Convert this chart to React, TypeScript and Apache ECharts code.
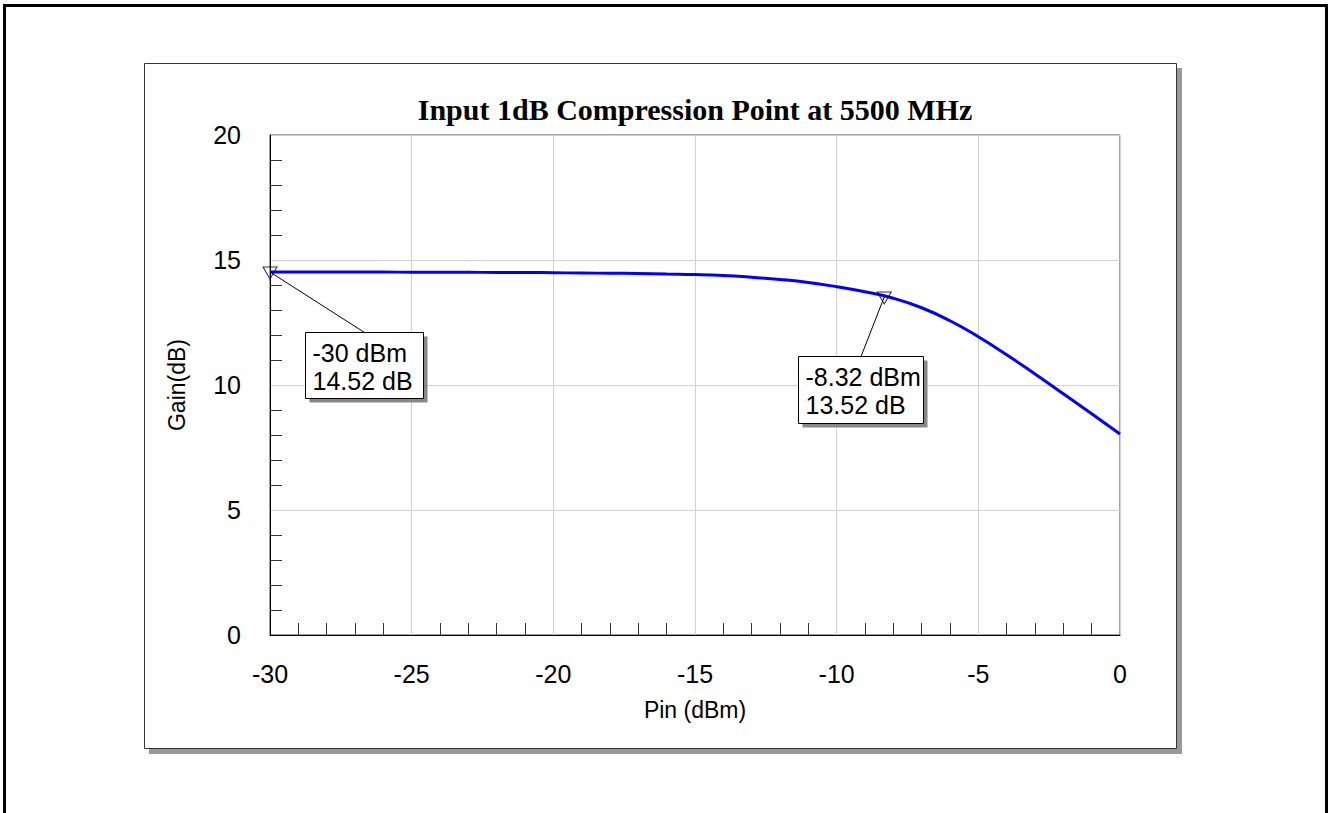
import React, { useEffect, useRef } from "react";
import * as echarts from "echarts";

// ---- data ----
const pinDbm = [-30, -29, -28, -27, -26, -25, -24, -23, -22, -21, -20, -19, -18, -17, -16, -15, -14, -13, -12, -11, -10, -9, -8, -7, -6, -5, -4, -3, -2, -1, 0];
const gainDb = [14.52, 14.52, 14.52, 14.52, 14.52, 14.51, 14.51, 14.51, 14.5, 14.5, 14.49, 14.48, 14.47, 14.46, 14.44, 14.42, 14.38, 14.31, 14.22, 14.1, 13.93, 13.73, 13.47, 13.09, 12.57, 11.93, 11.21, 10.44, 9.65, 8.85, 8.04];
const markerPin = [-30, -8.32];
const markerGain = [14.52, 13.52];
const markerText = ["-30 dBm\n14.52 dB", "-8.32 dBm\n13.52 dB"];
const titleText = "Input 1dB Compression Point at 5500 MHz";
const xName = "Pin (dBm)";
const yName = "Gain(dB)";

// callout layout (px offsets from marker)
const calloutLayout = [
  { dx: 35, dy: 60, w: 118, h: 66 },
  { dx: -86, dy: 59, w: 125, h: 67 },
];

const SANS = '"Liberation Sans", Arial, sans-serif';
const SERIF = '"Liberation Serif", "Times New Roman", serif';

export default function App() {
  const ref = useRef<HTMLDivElement>(null);
  useEffect(() => {
    const chart = echarts.init(ref.current!, null, { renderer: "svg" });
    chart.setOption({
      animation: false,
      grid: { left: 270, top: 135, right: 210, bottom: 178, show: true, borderColor: "#444", borderWidth: 1, backgroundColor: "transparent" },
      xAxis: {
        type: "value",
        min: -30,
        max: 0,
        interval: 5,
        name: xName,
        nameLocation: "middle",
        nameGap: 63,
        nameTextStyle: { fontFamily: SANS, fontSize: 23, color: "#000" },
        axisLine: { show: true, onZero: false, lineStyle: { color: "#000", width: 1 } },
        axisTick: { show: false, inside: true },
        minorTick: { show: true, splitNumber: 5, length: 12, lineStyle: { color: "#333", width: 1 } },
        splitLine: { show: true, lineStyle: { color: "#d0d0d0", width: 1 } },
        axisLabel: { fontFamily: SANS, fontSize: 25, color: "#000", margin: 26, showMinLabel: true, showMaxLabel: true },
      },
      yAxis: {
        type: "value",
        min: 0,
        max: 20,
        interval: 5,
        name: yName,
        nameLocation: "middle",
        nameGap: 82,
        nameRotate: 90,
        nameTextStyle: { fontFamily: SANS, fontSize: 23, color: "#000" },
        axisLine: { show: true, onZero: false, lineStyle: { color: "#000", width: 1 } },
        axisTick: { show: false, inside: true },
        minorTick: { show: true, splitNumber: 5, length: 12, lineStyle: { color: "#333", width: 1 } },
        splitLine: { show: true, lineStyle: { color: "#d0d0d0", width: 1 } },
        axisLabel: { fontFamily: SANS, fontSize: 25, color: "#000", margin: 29 },
      },
      series: [
        {
          type: "line",
          data: pinDbm.map((p, i) => [p, gainDb[i]]),
          smooth: true,
          showSymbol: false,
          lineStyle: { color: "#0000ff", width: 3 },
          z: 3,
        },
        {
          type: "scatter",
          data: markerPin.map((p, i) => [p, markerGain[i]]),
          symbol: "triangle",
          symbolRotate: 180,
          symbolSize: [14, 12],
          symbolOffset: [0, 1],
          itemStyle: { color: "rgba(0,0,0,0)", borderColor: "#000", borderWidth: 1 },
          z: 5,
        },
      ],
    });

    const callouts: any[] = [];
    markerPin.forEach((p, i) => {
      const [px, py] = chart.convertToPixel({ seriesIndex: 1 }, [p, markerGain[i]]) as number[];
      const L = calloutLayout[i];
      const bx = Math.round(px + L.dx) + 0.5;
      const by = Math.round(py + L.dy) + 0.5;
      callouts.push(
        { type: "line", z: 100, shape: { x1: px, y1: py, x2: bx + L.w / 2, y2: by }, style: { stroke: "#000", lineWidth: 1 } },
        { type: "rect", z: 100, shape: { x: bx + 4, y: by + 4, width: L.w, height: L.h }, style: { fill: "#888", stroke: "none" } },
        { type: "rect", z: 101, shape: { x: bx, y: by, width: L.w, height: L.h }, style: { fill: "#fff", stroke: "#000", lineWidth: 1 } },
        {
          type: "text",
          z: 102,
          x: bx + 7,
          y: by + 6,
          style: { text: markerText[i], font: `25px ${SANS}`, fill: "#000", lineHeight: 28, align: "left", verticalAlign: "top" },
        }
      );
    });

    chart.setOption({
      graphic: [
        { type: "rect", z: -100, shape: { x: 4.5, y: 5.5, width: 1322, height: 900 }, style: { fill: "none", stroke: "#000", lineWidth: 3 } },
        { type: "rect", z: -99, shape: { x: 149, y: 68, width: 1033, height: 686 }, style: { fill: "#999", stroke: "none" } },
        { type: "rect", z: -98, shape: { x: 144.5, y: 63.5, width: 1032, height: 685 }, style: { fill: "#fff", stroke: "#333", lineWidth: 1 } },
        {
          type: "text",
          z: 50,
          x: 695,
          y: 109,
          style: { text: titleText, font: `bold 30px ${SERIF}`, fill: "#000", align: "center", verticalAlign: "middle" },
        },
        ...callouts,
      ],
    });
    return () => chart.dispose();
  }, []);
  return <div ref={ref} style={{ position: "absolute", left: 0, top: 0, width: 1330, height: 813 }} />;
}
